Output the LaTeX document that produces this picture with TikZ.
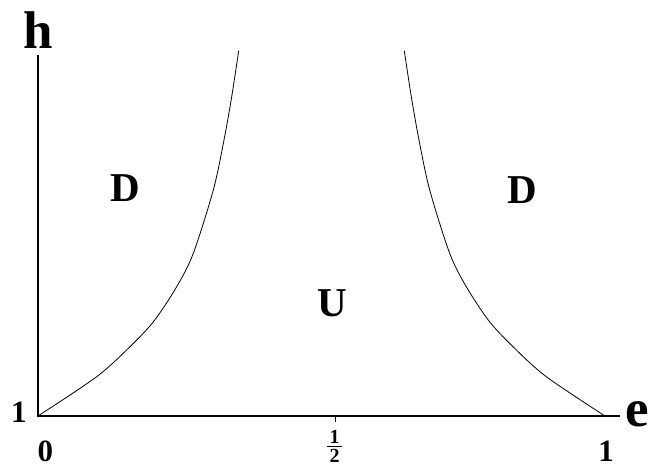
\documentclass[tikz,border=0pt]{standalone}
\usepackage{fontspec}
\setmainfont{Liberation Serif}
\begin{document}
\begin{tikzpicture}[x=1pt,y=-1pt,
  axis/.style={line width=1.7pt},
  tickline/.style={line width=0.8pt},
  bound/.style={line width=0.8pt},
  biglabel/.style={font=\fontsize{53}{60}\selectfont\bfseries, inner sep=0pt},
  region/.style={font=\fontsize{41}{48}\selectfont\bfseries, inner sep=0pt},
  num/.style={font=\fontsize{31}{36}\selectfont\bfseries, inner sep=0pt},
  fracnum/.style={font=\fontsize{20}{22}\selectfont\bfseries, inner sep=0pt}]
\useasboundingbox (0,0) rectangle (649,467);
% axes
\coordinate (O) at (38,416);
\coordinate (Xend) at (620,416);
\coordinate (Yend) at (38,55);
\coordinate (T1) at (335,416);
\coordinate (T2) at (335,422);
\draw[axis] (Yend) -- (O) -- (Xend);
\draw[tickline] (T1) -- (T2);
% boundary curves
\draw[bound] plot[smooth] coordinates {(38,416) (96.7,376.7) (130,346.7) (154,321) (176.7,286.7) (193.3,253.3) (213.3,190) (224,140) (231.7,96.7) (238.7,50.7)};
\draw[bound] plot[smooth] coordinates {(605,416) (546.3,376.7) (513,346.7) (489,321) (466.3,286.7) (449.7,253.3) (429.7,190) (419,140) (411.3,96.7) (404.3,50.7)};
% axis labels
\node[biglabel] (h) at (38.5,30.5) {h};
\node[biglabel] (e) at (637,414) {e};
\node[num] (one-h) at (19,412) {1};
\node[num] (zero) at (45.5,451) {0};
\node[num] (one-e) at (606,451) {1};
% fraction 1/2
\node[fracnum] (half-num) at (334.5,437) {1};
\node[fracnum] (half-den) at (334.5,456) {2};
\coordinate (bar-l) at (327,446.5);
\coordinate (bar-r) at (342,446.5);
\draw[line width=1.4pt] (bar-l) -- (bar-r);
% regions
\node[region] (D1) at (125,188) {D};
\node[region] (U) at (332,303) {U};
\node[region] (D2) at (522,190) {D};
\end{tikzpicture}
\end{document}
